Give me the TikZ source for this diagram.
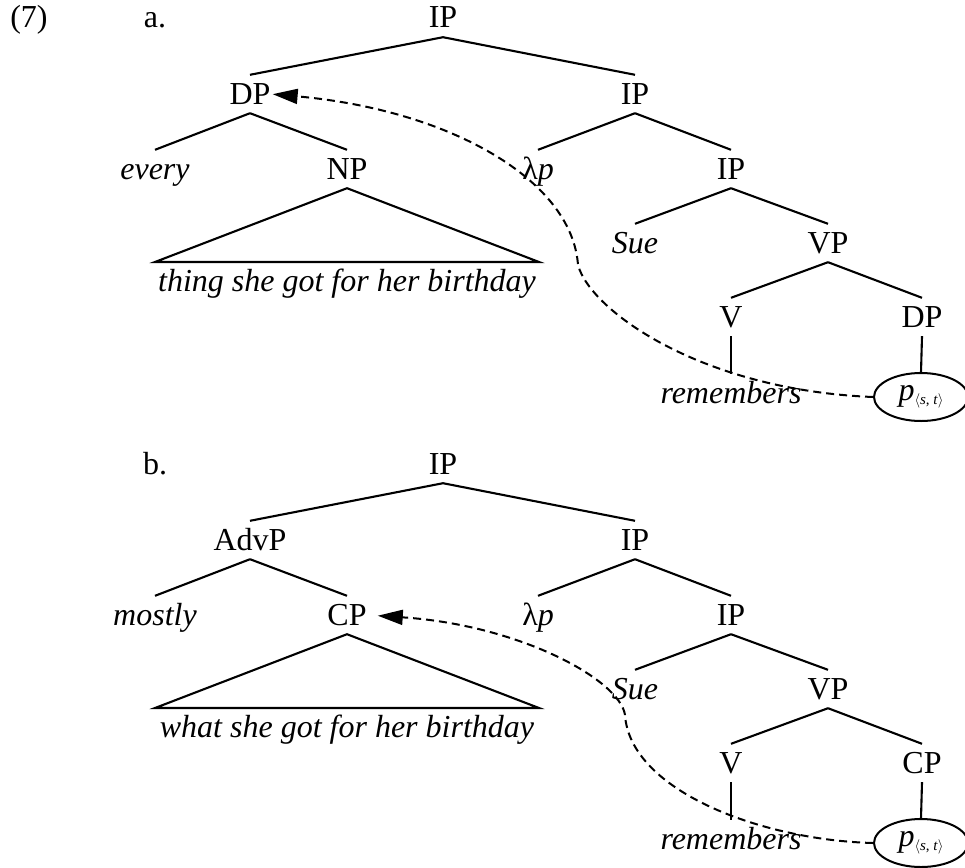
\documentclass[tikz,border=0pt]{standalone}
\usepackage{fontspec}
\setmainfont{Liberation Serif}
\usetikzlibrary{arrows.meta,shapes.geometric}
\begin{document}
\begin{tikzpicture}[x=1pt,y=-1pt,
  lbl/.style={anchor=base,inner sep=0pt,text height=29pt,text depth=9pt,font=\fontsize{32}{37}\selectfont},
  word/.style={lbl,font=\fontsize{32}{37}\selectfont\itshape},
  edge/.style={line width=2.1pt},
  moved/.style={line width=2pt,dash pattern=on 8pt off 5pt,-{Triangle[length=25pt,width=15pt]}},
  trace/.style={draw,ellipse,line width=2pt,minimum width=94pt,minimum height=48pt,inner sep=0pt,font=\fontsize{32}{37}\selectfont}]
\useasboundingbox (0,0) rectangle (965,867);
\newcommand{\ptype}{\textit{p}\raisebox{-4pt}{\fontsize{15}{15}\selectfont$\langle$\textit{s}, \textit{t}$\rangle$}}

% example number
\node[lbl] (num) at (29,28) {(7)};

% ---------------- tree (a) ----------------
\node[lbl] (alab) at (155,28) {a.};
\node[lbl] (aIP0) at (443,28) {IP};
\node[lbl] (aDP) at (250,104) {DP};
\node[lbl] (aIP1) at (635,104) {IP};
\node[word] (aev) at (155,179) {every};
\node[lbl] (aNP) at (347,179) {NP};
\node[lbl] (alam) at (538,179) {λ\textit{p}};
\node[lbl] (aIP2) at (731,179) {IP};
\coordinate (atl) at (155,262);
\coordinate (atr) at (539,262);
\node[word] (atxt) at (347,291) {thing she got for her birthday};
\node[word] (asue) at (635,253) {Sue};
\node[lbl] (aVP) at (828,253) {VP};
\node[lbl] (aV) at (731,327) {V};
\node[lbl] (aDP2) at (922,327) {DP};
\node[word] (arem) at (731,403) {remembers};
\node[trace] (ap) at (921,397) {\ptype};

\draw[edge] (aIP0.south) -- (aDP.north);
\draw[edge] (aIP0.south) -- (aIP1.north);
\draw[edge] (aDP.south) -- (aev.north);
\draw[edge] (aDP.south) -- (aNP.north);
\draw[edge] (aIP1.south) -- (alam.north);
\draw[edge] (aIP1.south) -- (aIP2.north);
\draw[edge] (aNP.south) -- (atl) -- (atr) -- cycle;
\draw[edge] (aIP2.south) -- (asue.north);
\draw[edge] (aIP2.south) -- (aVP.north);
\draw[edge] (aVP.south) -- (aV.north);
\draw[edge] (aVP.south) -- (aDP2.north);
\draw[edge] (aV.south) -- (arem.north);
\draw[edge] (aDP2.south) -- (ap.north);

\draw[moved,shorten >=2pt] (ap.west) .. controls (700,390) and (590,310) .. (578,265)
  .. controls (572,180) and (450,110) .. (aDP.east);

% ---------------- tree (b) ----------------
\node[lbl] (blab) at (155,474) {b.};
\node[lbl] (bIP0) at (443,474) {IP};
\node[lbl] (bAdv) at (250,550) {AdvP};
\node[lbl] (bIP1) at (635,550) {IP};
\node[word] (bmo) at (155,625) {mostly};
\node[lbl] (bCP) at (347,625) {CP};
\node[lbl] (blam) at (538,625) {λ\textit{p}};
\node[lbl] (bIP2) at (731,625) {IP};
\coordinate (btl) at (155,708);
\coordinate (btr) at (539,708);
\node[word] (btxt) at (347,737) {what she got for her birthday};
\node[word] (bsue) at (635,699) {Sue};
\node[lbl] (bVP) at (828,699) {VP};
\node[lbl] (bV) at (731,773) {V};
\node[lbl] (bCP2) at (922,773) {CP};
\node[word] (brem) at (731,849) {remembers};
\node[trace] (bp) at (921,843) {\ptype};

\draw[edge] (bIP0.south) -- (bAdv.north);
\draw[edge] (bIP0.south) -- (bIP1.north);
\draw[edge] (bAdv.south) -- (bmo.north);
\draw[edge] (bAdv.south) -- (bCP.north);
\draw[edge] (bIP1.south) -- (blam.north);
\draw[edge] (bIP1.south) -- (bIP2.north);
\draw[edge] (bCP.south) -- (btl) -- (btr) -- cycle;
\draw[edge] (bIP2.south) -- (bsue.north);
\draw[edge] (bIP2.south) -- (bVP.north);
\draw[edge] (bVP.south) -- (bV.north);
\draw[edge] (bVP.south) -- (bCP2.north);
\draw[edge] (bV.south) -- (brem.north);
\draw[edge] (bCP2.south) -- (bp.north);

\draw[moved,shorten >=11pt] (bp.west) .. controls (760,840) and (630,790) .. (625,715)
  .. controls (620,680) and (520,625) .. (bCP.east);
\end{tikzpicture}
\end{document}
